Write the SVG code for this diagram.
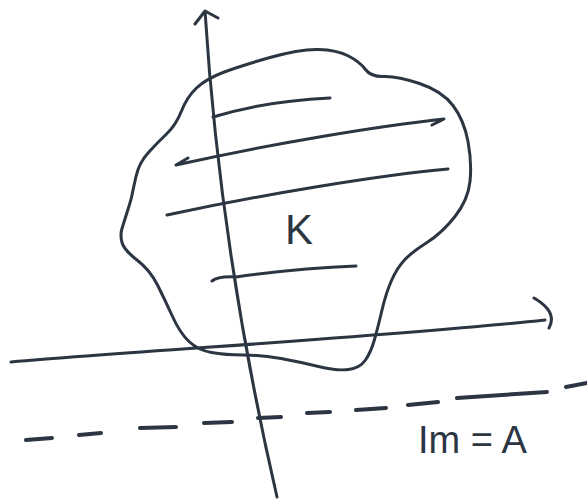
<svg xmlns="http://www.w3.org/2000/svg" width="587" height="500" viewBox="0 0 587 500">
<style>
.s{fill:none;stroke:#2c3542;stroke-width:3;stroke-linecap:round;stroke-linejoin:round}
.d{fill:none;stroke:#2c3542;stroke-width:4;stroke-linecap:round}
.t{font-family:"Liberation Sans","DejaVu Sans",sans-serif;fill:#2c3542}
</style>
<rect width="587" height="500" fill="#ffffff"/>
<g id="region-K">
<path class="s" d="M196.5,88 Q206,79 223,72.5 Q240,66 270,57.5 Q300,49 318.5,49.5 Q337,50 348.5,56 Q360,62 365.5,69.5 Q371,77 384,76.5 Q397,76 419.5,83.5 Q442,91 453,105.5 Q464,120 468,141.5 Q472,163 470,181.5 Q468,200 455,216.5 Q442,233 427,242.5 Q412,252 404.5,260 Q397,268 391.5,280.5 Q386,293 382,310 Q378,327 374.5,339.5 Q371,352 365.5,360 Q360,368 348.5,369.5 Q337,371 318.5,366.5 Q300,362 281,358.5 Q262,355 243.5,355 Q225,355 211.5,352.5 Q198,350 189,341.5 Q180,333 172.5,316.5 Q165,300 157.5,285 Q150,270 137,260 Q124,250 122,242.5 Q120,235 122,228.5 Q124,222 127.5,211 Q131,200 132,195 Q133,190 136,176.5 Q139,163 148,153 Q157,143 166.5,134 Q176,125 181.5,111 Q187,97 196.5,88 Z"/>
<path class="s" d="M213,117 Q265,101 330,98"/>
<path class="s" d="M176,165 C280,142 380,126 444,119 L432,125 M188,158 L176,165"/>
<path class="s" d="M167,215 C260,195 380,175 448,169"/>
<path class="s" d="M212,281 Q218,276 236,277 Q300,268 356,266"/>
<text class="t" x="285" y="244" font-size="42">K</text>
</g>
<g id="axes">
<path class="s" d="M205,11 Q220,250 277,497 M195,24 L205,11 L218,18"/>
<path class="s" d="M11,362 C150,350 400,336 545,320 M534,298 Q558,312 549,328"/>
</g>
<g id="image-line">
<path class="d" d="M26,440 L52,438 M79,435 L101,433 M140,428 L176,427 M204,423 L232,422 M258,418 L281,417 M307,413 L330,412 M356,410 L386,408 M408,405 L438,402 M457,398 L547,392 M566,387 L587,383"/>
<text class="t" x="418" y="453" font-size="38">Im = A</text>
</g>
</svg>
